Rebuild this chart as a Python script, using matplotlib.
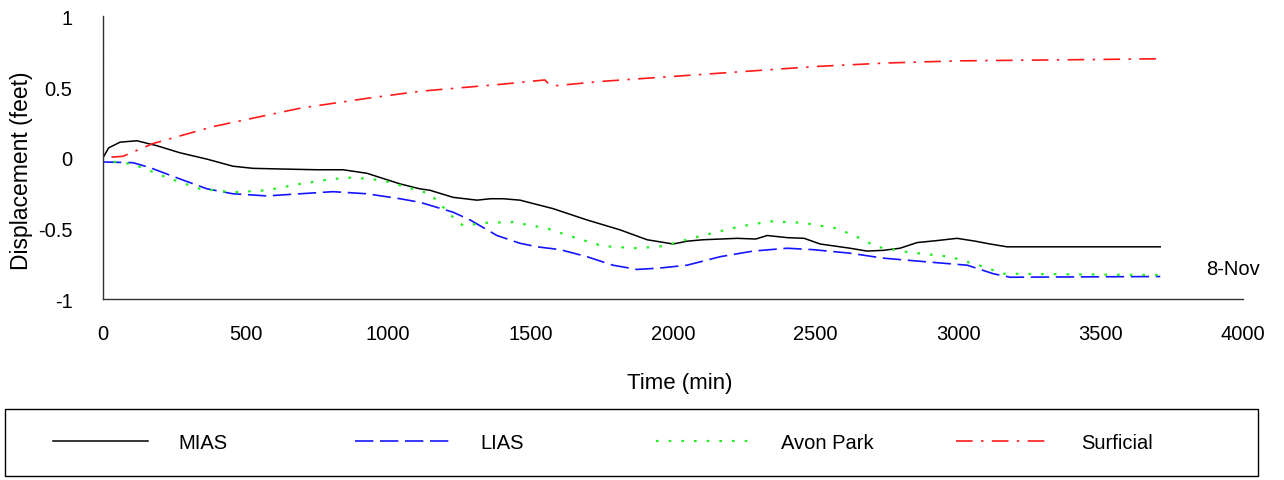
import matplotlib
matplotlib.use("Agg")
import matplotlib.pyplot as plt
from matplotlib.lines import Line2D
from matplotlib.patches import Rectangle

plt.rcParams['font.family'] = ['Liberation Sans', 'DejaVu Sans']

# Time (min) and displacement (feet) for each aquifer
mias_t = [0, 0, 20, 60, 119, 189, 270, 365, 456, 526, 632, 750, 842, 926, 1042, 1112,
          1147, 1228, 1312, 1360, 1404, 1463, 1579, 1698, 1814, 1909, 2000, 2050, 2105,
          2225, 2290, 2330, 2400, 2460, 2516, 2621, 2680, 2737, 2796, 2856, 2930, 2996,
          3060, 3112, 3172, 3400, 3709]
mias_v = [0.97, 0.0, 0.07, 0.11, 0.12, 0.085, 0.035, -0.01, -0.06, -0.075, -0.08, -0.085,
          -0.085, -0.11, -0.185, -0.22, -0.23, -0.28, -0.30, -0.29, -0.29, -0.30, -0.36,
          -0.44, -0.51, -0.58, -0.61, -0.59, -0.58, -0.57, -0.575, -0.55, -0.565, -0.57,
          -0.61, -0.64, -0.66, -0.655, -0.64, -0.60, -0.585, -0.57, -0.59, -0.61, -0.63,
          -0.63, -0.63]

lias_t = [0, 105, 165, 270, 365, 456, 575, 691, 807, 926, 1042, 1112, 1228, 1288, 1382,
          1463, 1523, 1604, 1698, 1789, 1874, 1954, 2049, 2165, 2281, 2400, 2491, 2621,
          2737, 2912, 3032, 3123, 3182, 3709]
lias_v = [-0.03, -0.035, -0.07, -0.15, -0.22, -0.255, -0.27, -0.255, -0.24, -0.255, -0.29,
          -0.315, -0.385, -0.44, -0.55, -0.605, -0.63, -0.65, -0.70, -0.76, -0.79, -0.78,
          -0.76, -0.70, -0.66, -0.64, -0.65, -0.675, -0.71, -0.74, -0.76, -0.82, -0.845,
          -0.84]

avon_t = [0, 0, 105, 224, 340, 456, 575, 691, 807, 877, 982, 1147, 1228, 1263, 1347, 1439,
          1558, 1663, 1754, 1874, 1965, 2084, 2225, 2340, 2456, 2575, 2645, 2716, 2832,
          2972, 3088, 3158, 3709]
avon_v = [0.8, -0.02, -0.045, -0.14, -0.22, -0.245, -0.23, -0.185, -0.15, -0.14, -0.16,
          -0.255, -0.42, -0.48, -0.46, -0.455, -0.50, -0.57, -0.625, -0.64, -0.625, -0.56,
          -0.49, -0.45, -0.46, -0.50, -0.56, -0.63, -0.67, -0.70, -0.77, -0.82, -0.83]

surf_t = [0, 0, 70, 175, 386, 691, 926, 1112, 1400, 1550, 1565, 1590, 1750, 2000, 2250,
          2500, 2750, 3000, 3250, 3500, 3709]
surf_v = [0.7, 0.0, 0.01, 0.1, 0.22, 0.35, 0.42, 0.47, 0.52, 0.55, 0.52, 0.51, 0.54, 0.575,
          0.61, 0.645, 0.67, 0.685, 0.69, 0.695, 0.70]

series_names = ["MIAS", "LIAS", "Avon Park", "Surficial"]
x_ticks = [0, 500, 1000, 1500, 2000, 2500, 3000, 3500, 4000]
y_ticks = [-1, -0.5, 0, 0.5, 1]
y_tick_labels = ["-1", "-0.5", "0", "0.5", "1"]
date_label = "8-Nov"

fig = plt.figure(figsize=(12.84, 4.81), dpi=100)
ax = fig.add_axes([0.0802, 0.376, 0.888, 0.588])

styles = [
    dict(color="black", lw=1.1, linestyle="-"),
    dict(color="#1515ff", lw=1.2, linestyle=(0, (11, 4))),
    dict(color="#22ee22", lw=1.6, linestyle=(0, (1.2, 4.5))),
    dict(color="#ff1a1a", lw=1.2, linestyle=(0, (10, 5, 1.5, 5))),
]
data = [(mias_t, mias_v), (lias_t, lias_v), (avon_t, avon_v), (surf_t, surf_v)]

for (t, v), st, name in zip(data, styles, series_names):
    ax.plot(t, v, label=name, **st)

ax.set_xlim(0, 4000)
ax.set_ylim(-1, 1)
ax.set_xticks(x_ticks)
ax.set_xticklabels([str(x) for x in x_ticks])
ax.set_yticks(y_ticks)
ax.set_yticklabels(y_tick_labels)
ax.tick_params(axis="x", length=0, pad=18, labelsize=14.5)
ax.tick_params(axis="y", length=0, pad=22, labelsize=14.5)

for side in ("top", "right"):
    ax.spines[side].set_visible(False)
for side in ("left", "bottom"):
    ax.spines[side].set_color("#333333")
    ax.spines[side].set_linewidth(1.0)

ax.set_xlabel("Time (min)", fontsize=16)
ax.xaxis.set_label_coords(0.506, -0.258)
ax.set_ylabel("Displacement (feet)", fontsize=16.5)
ax.yaxis.set_label_coords(-0.0614, 0.458)

ax.text(3870, -0.78, date_label, fontsize=14.5, ha="left", va="center")

# Legend: a framed strip across the bottom with evenly spaced entries
fig.patches.append(Rectangle((0.004, 0.008), 0.976, 0.139, transform=fig.transFigure,
                             fill=False, edgecolor="black", lw=1.0))
starts = [0.0413, 0.2765, 0.511, 0.7445]
for x0, st, name in zip(starts, styles, series_names):
    h = Line2D([0], [0], **st)
    fig.legend([h], [name], loc="center left", bbox_to_anchor=(x0, 0.077),
               frameon=False, fontsize=14.5, handlelength=4.7, handletextpad=1.5,
               borderaxespad=0, borderpad=0)

fig.savefig("out.png", dpi=100)
